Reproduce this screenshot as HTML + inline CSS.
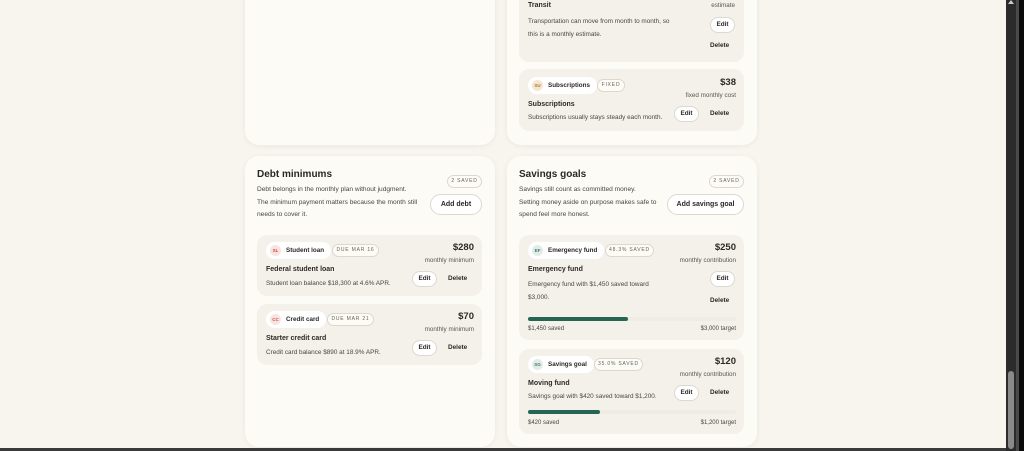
<!DOCTYPE html>
<html><head><meta charset="utf-8"><style>
*{box-sizing:border-box;margin:0;padding:0}
body{width:1024px;height:451px;overflow:hidden;background:#f1efe9;font-family:"Liberation Sans",sans-serif;color:#2d2a26;position:relative}
.a{position:absolute;white-space:nowrap}
.card{position:absolute;background:#fcfbf6;border-radius:14px;box-shadow:0 1px 6px rgba(0,0,0,.06)}
.item{position:absolute;background:#f4f1ea;border-radius:10px}
.h{font-size:10px;font-weight:bold;color:#2a2825}
.p{font-size:6.6px;color:#4a4640;line-height:12.5px}
.badge{position:absolute;border:1px solid #dcd8d0;border-radius:8px;font-size:5px;letter-spacing:.8px;color:#6a655e;text-align:center;background:#fcfbf6;white-space:nowrap}
.btn{position:absolute;border:1px solid #ddd9d1;border-radius:11px;background:#fff;font-size:7px;font-weight:bold;text-align:center;color:#2a2825;white-space:nowrap}
.pill{position:absolute;background:#fff;border-radius:9px;height:17px;font-size:6.3px;font-weight:bold;line-height:17px;padding-left:20px;padding-right:7px;color:#2a2825;white-space:nowrap}
.ic{position:absolute;left:4px;top:3px;width:11px;height:11px;border-radius:50%;font-size:4.5px;line-height:11px;text-align:center;font-weight:bold;padding:0}
.amt{position:absolute;font-size:9.5px;font-weight:bold;text-align:right}
.sub{position:absolute;font-size:6.3px;color:#5a564f;text-align:right;white-space:nowrap}
.t{position:absolute;font-size:7px;font-weight:bold;white-space:nowrap}
.d{position:absolute;font-size:6.4px;color:#4a4640;white-space:nowrap}
.del{position:absolute;font-size:6.4px;font-weight:bold}
.bar{position:absolute;height:4px;background:#efece4;border-radius:2px}
.fill{height:4px;background:#246653;border-radius:2px}
</style></head><body>
<div style="position:absolute;left:0;top:0;width:1006px;height:448px;background:#f7f5ee"></div>
<div class="card" style="left:245px;top:-20px;width:250px;height:165px"></div>
<div class="card" style="left:507px;top:-20px;width:250px;height:165px"></div>
<div class="item" style="left:519px;top:-20px;width:225px;height:82px"></div>
<div class="t" style="left:528px;top:2px">Transit</div>
<div class="sub" style="left:650px;top:2px;width:85px">estimate</div>
<div class="d" style="left:528px;top:16px;line-height:12.5px">Transportation can move from month to month, so<br>this is a monthly estimate.</div>
<div class="btn" style="left:710px;top:17px;width:25px;height:16px;line-height:14px;font-size:6.4px">Edit</div>
<div class="del" style="left:710px;top:42px">Delete</div>

<div class="item" style="left:519px;top:69px;width:225px;height:62px"></div>
<div class="pill" style="left:528px;top:77px"><div class="ic" style="background:#f6e6cf;color:#a47a3c">SU</div>Subscriptions</div>
<div class="badge" style="left:597px;top:79px;width:28px;height:13px;line-height:11px">FIXED</div>
<div class="amt" style="left:680px;top:77px;width:56px">$38</div>
<div class="sub" style="left:640px;top:92px;width:96px">fixed monthly cost</div>
<div class="t" style="left:528px;top:101px">Subscriptions</div>
<div class="d" style="left:528px;top:114px">Subscriptions usually stays steady each month.</div>
<div class="btn" style="left:674px;top:106px;width:25px;height:16px;line-height:14px;font-size:6.4px">Edit</div>
<div class="del" style="left:710px;top:110px">Delete</div>

<!-- Debt -->
<div class="card" style="left:245px;top:156px;width:250px;height:291px"></div>
<div class="h a" style="left:257px;top:169px">Debt minimums</div>
<div class="badge" style="left:447px;top:175px;width:35px;height:13px;line-height:11px">2 SAVED</div>
<div class="p a" style="left:257px;top:184px">Debt belongs in the monthly plan without judgment.<br>The minimum payment matters because the month still<br>needs to cover it.</div>
<div class="btn" style="left:430px;top:194px;width:52px;height:21px;line-height:19px">Add debt</div>

<div class="item" style="left:257px;top:235px;width:225px;height:61px"></div>
<div class="pill" style="left:266px;top:242px"><div class="ic" style="background:#f9e3e0;color:#c0504a">SL</div>Student loan</div>
<div class="badge" style="left:332px;top:244px;width:47px;height:13px;line-height:11px">DUE MAR 16</div>
<div class="amt" style="left:420px;top:242px;width:54px">$280</div>
<div class="sub" style="left:390px;top:257px;width:84px">monthly minimum</div>
<div class="t" style="left:266px;top:266px">Federal student loan</div>
<div class="d" style="left:266px;top:280px">Student loan balance $18,300 at 4.6% APR.</div>
<div class="btn" style="left:412px;top:271px;width:25px;height:16px;line-height:14px;font-size:6.4px">Edit</div>
<div class="del" style="left:448px;top:275px">Delete</div>

<div class="item" style="left:257px;top:304px;width:225px;height:61px"></div>
<div class="pill" style="left:266px;top:311px"><div class="ic" style="background:#f9e3e0;color:#c0504a">CC</div>Credit card</div>
<div class="badge" style="left:327px;top:313px;width:47px;height:13px;line-height:11px">DUE MAR 21</div>
<div class="amt" style="left:420px;top:311px;width:54px">$70</div>
<div class="sub" style="left:390px;top:326px;width:84px">monthly minimum</div>
<div class="t" style="left:266px;top:335px">Starter credit card</div>
<div class="d" style="left:266px;top:349px">Credit card balance $890 at 18.9% APR.</div>
<div class="btn" style="left:412px;top:340px;width:25px;height:16px;line-height:14px;font-size:6.4px">Edit</div>
<div class="del" style="left:448px;top:344px">Delete</div>

<!-- Savings -->
<div class="card" style="left:507px;top:156px;width:250px;height:291px"></div>
<div class="h a" style="left:519px;top:169px">Savings goals</div>
<div class="badge" style="left:709px;top:175px;width:35px;height:13px;line-height:11px">2 SAVED</div>
<div class="p a" style="left:519px;top:184px">Savings still count as committed money.<br>Setting money aside on purpose makes safe to<br>spend feel more honest.</div>
<div class="btn" style="left:667px;top:194px;width:77px;height:21px;line-height:19px">Add savings goal</div>

<div class="item" style="left:519px;top:235px;width:225px;height:105px"></div>
<div class="pill" style="left:528px;top:242px"><div class="ic" style="background:#e1ece8;color:#3e7a68">EF</div>Emergency fund</div>
<div class="badge" style="left:605px;top:244px;width:49px;height:13px;line-height:11px">48.3% SAVED</div>
<div class="amt" style="left:680px;top:242px;width:56px">$250</div>
<div class="sub" style="left:640px;top:257px;width:96px">monthly contribution</div>
<div class="t" style="left:528px;top:266px">Emergency fund</div>
<div class="d" style="left:528px;top:279px;line-height:12.5px">Emergency fund with $1,450 saved toward<br>$3,000.</div>
<div class="btn" style="left:710px;top:271px;width:25px;height:16px;line-height:14px;font-size:6.4px">Edit</div>
<div class="del" style="left:710px;top:297px">Delete</div>
<div class="bar" style="left:528px;top:317px;width:208px"><div class="fill" style="width:100px"></div></div>
<div class="d" style="left:528px;top:326px;font-size:6px">$1,450 saved</div>
<div class="d" style="left:676px;top:326px;width:60px;text-align:right;font-size:6px">$3,000 target</div>

<div class="item" style="left:519px;top:349px;width:225px;height:85px"></div>
<div class="pill" style="left:528px;top:356px"><div class="ic" style="background:#e1ece8;color:#3e7a68">SG</div>Savings goal</div>
<div class="badge" style="left:594px;top:358px;width:49px;height:13px;line-height:11px">35.0% SAVED</div>
<div class="amt" style="left:680px;top:356px;width:56px">$120</div>
<div class="sub" style="left:640px;top:371px;width:96px">monthly contribution</div>
<div class="t" style="left:528px;top:380px">Moving fund</div>
<div class="d" style="left:528px;top:393px">Savings goal with $420 saved toward $1,200.</div>
<div class="btn" style="left:674px;top:385px;width:25px;height:16px;line-height:14px;font-size:6.4px">Edit</div>
<div class="del" style="left:710px;top:389px">Delete</div>
<div class="bar" style="left:528px;top:410px;width:208px"><div class="fill" style="width:72px"></div></div>
<div class="d" style="left:528px;top:420px;font-size:6px">$420 saved</div>
<div class="d" style="left:676px;top:420px;width:60px;text-align:right;font-size:6px">$1,200 target</div>

<!-- scrollbar -->
<div class="a" style="left:1006px;top:0;width:10px;height:451px;background:#2b2b2b"></div>
<div class="a" style="left:1016px;top:0;width:3px;height:451px;background:#4a4a4a"></div>
<div class="a" style="left:1019px;top:0;width:5px;height:451px;background:#0a0a0a"></div>
<div class="a" style="left:1008px;top:371px;width:6px;height:78px;background:#8a8a8a;border-radius:3px"></div>
<div class="a" style="left:1008px;top:0;width:0;height:0;border-left:3px solid transparent;border-right:3px solid transparent;border-bottom:4px solid #ccc"></div>
<div class="a" style="left:0;top:448px;width:1006px;height:3px;background:#3a3a3a"></div>
</body></html>
